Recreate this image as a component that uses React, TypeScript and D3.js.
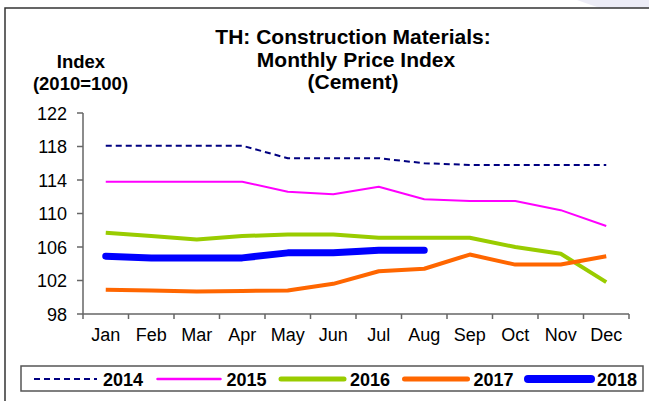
import React from "react";
import * as d3 from "d3";

const months = ["Jan", "Feb", "Mar", "Apr", "May", "Jun", "Jul", "Aug", "Sep", "Oct", "Nov", "Dec"];
const yTicks = [98, 102, 106, 110, 114, 118, 122];
const s2014 = [118.1, 118.1, 118.1, 118.1, 116.6, 116.6, 116.6, 116.0, 115.8, 115.8, 115.8, 115.8];
const s2015 = [113.8, 113.8, 113.8, 113.8, 112.6, 112.3, 113.2, 111.7, 111.5, 111.5, 110.4, 108.5];
const s2016 = [107.7, 107.3, 106.9, 107.3, 107.5, 107.5, 107.1, 107.1, 107.1, 106.0, 105.2, 101.8];
const s2017 = [100.9, 100.8, 100.7, 100.75, 100.8, 101.6, 103.1, 103.4, 105.1, 103.9, 103.9, 104.9];
const s2018 = [104.9, 104.7, 104.7, 104.7, 105.3, 105.3, 105.6, 105.6];

const seriesNames = ["2014", "2015", "2016", "2017", "2018"];
const seriesValues = [s2014, s2015, s2016, s2017, s2018];
const seriesStyle = [
  { color: "#000080", width: 2, dash: "6,4", legendWidth: 2 },
  { color: "#ff00ff", width: 2, dash: "", legendWidth: 2.5 },
  { color: "#99cc00", width: 4, dash: "", legendWidth: 5 },
  { color: "#ff6600", width: 4, dash: "", legendWidth: 5 },
  { color: "#0000ff", width: 7, dash: "", legendWidth: 8 },
];

const FONT = "'Liberation Sans', Arial, Helvetica, sans-serif";

export default function App() {
  const x = d3.scaleBand<string>().domain(months).range([83, 629]);
  const y = d3.scaleLinear().domain([98, 122]).range([314, 113]);
  const cx = (i: number) => (x(months[i]) as number) + x.bandwidth() / 2;
  const line = d3
    .line<number>()
    .x((_, i) => cx(i))
    .y((d) => y(d));

  const legendStart = 34;
  const legendPitch = 123.5;
  const legendLineLen = 63;
  const legendY = 379;

  return (
    <svg
      width={649}
      height={401}
      style={{ position: "absolute", left: 0, top: 0, background: "#fff" }}
      fontFamily={FONT}
    >
      <rect x={0} y={0} width={649} height={401} fill="#fff" />
      <path d="M577,0 L649,0 L649,8 L600,8 Q588,4 577,0 Z" fill="#ececf6" />
      <rect x={5} y={8} width={660} height={420} fill="none" stroke="#333" strokeWidth={1.5} />

      {/* titles */}
      <g fontWeight="bold" fontSize={21} fill="#000" textAnchor="middle">
        <text x={353} y={44}>TH: Construction Materials:</text>
        <text x={356} y={67}>Monthly Price Index</text>
        <text x={353} y={89}>(Cement)</text>
      </g>
      <g fontWeight="bold" fontSize={18.5} fill="#000" textAnchor="middle">
        <text x={81} y={68}>Index</text>
        <text x={80.5} y={90}>(2010=100)</text>
      </g>

      {/* axes */}
      <g stroke="#666" strokeWidth={1.5}>
        <line x1={83} x2={83} y1={y(122)} y2={y(98)} />
        <line x1={83} x2={629} y1={y(98)} y2={y(98)} />
        {yTicks.map((t) => (
          <line key={t} x1={77} x2={83} y1={y(t)} y2={y(t)} />
        ))}
        {months.map((m) => (
          <line key={m} x1={x(m) as number} x2={x(m) as number} y1={314} y2={319} />
        ))}
        <line x1={629} x2={629} y1={314} y2={319} />
      </g>
      <g fontSize={18} fill="#000" textAnchor="end">
        {yTicks.map((t) => (
          <text key={t} x={67} y={y(t) + 6.5}>
            {t}
          </text>
        ))}
      </g>
      <g fontSize={18} fill="#000" textAnchor="middle">
        {months.map((m, i) => (
          <text key={m} x={cx(i)} y={341}>
            {m}
          </text>
        ))}
      </g>

      {/* series */}
      {seriesValues.map((vals, k) => (
        <path
          key={seriesNames[k]}
          d={line(vals) || ""}
          fill="none"
          stroke={seriesStyle[k].color}
          strokeWidth={seriesStyle[k].width}
          strokeDasharray={seriesStyle[k].dash || undefined}
          strokeLinecap={k === 4 ? "round" : "butt"}
          strokeLinejoin="round"
        />
      ))}

      {/* legend */}
      <rect x={21} y={366} width={622} height={25} fill="#fff" stroke="#555" strokeWidth={1.5} />
      {seriesNames.map((name, k) => {
        const x0 = legendStart + k * legendPitch;
        const st = seriesStyle[k];
        return (
          <g key={name}>
            <line
              x1={x0}
              x2={x0 + legendLineLen}
              y1={legendY}
              y2={legendY}
              stroke={st.color}
              strokeWidth={st.legendWidth}
              strokeDasharray={st.dash || undefined}
              strokeLinecap={st.dash ? "butt" : "round"}
            />
            <text x={x0 + legendLineLen + 6} y={legendY + 6.5} fontSize={18} fontWeight="bold" fill="#000">
              {name}
            </text>
          </g>
        );
      })}
    </svg>
  );
}
